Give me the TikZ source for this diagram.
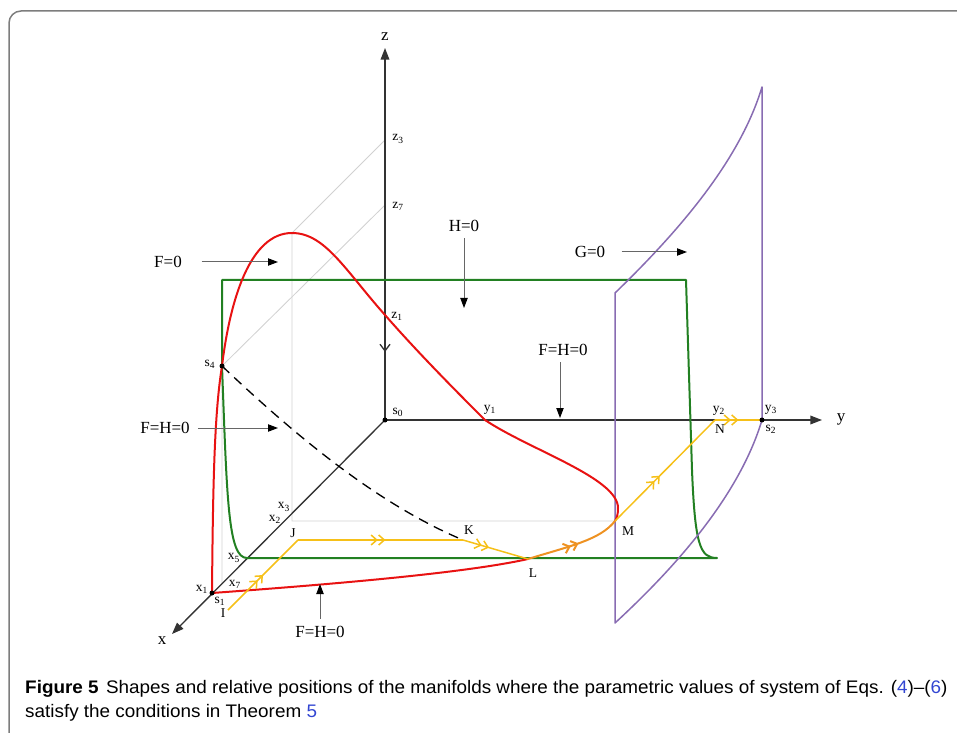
\documentclass[tikz,border=0pt]{standalone}
\usepackage{fontspec}
\setmainfont{Liberation Serif}
\newfontfamily\capfont[FakeStretch=1.04]{Liberation Sans}
\usepackage{tikz}
\usetikzlibrary{positioning,arrows.meta,decorations.markings}

\definecolor{redc}{RGB}{232,18,18}
\definecolor{greenc}{RGB}{34,128,34}
\definecolor{purplec}{RGB}{136,108,178}
\definecolor{yellowc}{RGB}{246,192,24}
\definecolor{orangec}{RGB}{238,146,34}
\definecolor{linkblue}{RGB}{50,70,210}
\definecolor{framegray}{RGB}{125,125,125}

\tikzset{
    axis/.style={line width=0.4mm, black!80, -{Triangle[length=3.5mm,width=2.6mm]}},
    note/.style={line width=0.3mm, black!60, -{Triangle[length=3mm,width=2.2mm,black]}},
    lab/.style={font=\fontsize{14.5}{16}\selectfont, inner sep=1pt},
    small/.style={font=\fontsize{11.5}{12}\selectfont, inner sep=1pt},
    guide/.style={line width=0.25mm, black!18},
    flow/.style={line width=0.45mm, yellowc, postaction=decorate,
        decoration={markings, mark=at position #1 with
        {\arrow{Straight Barb[length=1.7mm,width=3mm] Straight Barb[length=1.7mm,width=3mm]}}}},
    flow/.default=0.5,
}

\begin{document}
\begin{tikzpicture}[x=0.3mm, y=-0.3mm]
    \useasboundingbox (0,0) rectangle (957,733);
    % frame
    \draw[framegray, line width=0.45mm, rounded corners=3.6mm] (960,11) -- (9,11) -- (9,740);

    % points
    \coordinate (s0) at (385,420);
    \coordinate (s1) at (212,593);
    \coordinate (s4) at (222,366);
    \coordinate (s2) at (762,420);
    \coordinate (peak) at (292,233);
    \coordinate (y1) at (485,420);
    \coordinate (z1) at (385,315);
    \coordinate (z3) at (385,140);
    \coordinate (z7) at (385,205);
    \coordinate (x5) at (247,558);
    \coordinate (x7) at (222,583);
    \coordinate (I) at (228,610);
    \coordinate (J) at (298,540);
    \coordinate (K) at (463,540);
    \coordinate (L) at (528,559);
    \coordinate (M) at (615,521);
    \coordinate (N) at (715,420);
    \coordinate (xend) at (172,634);
    \coordinate (yend) at (822,420);
    \coordinate (zend) at (385,48);

    % guide lines
    \draw[guide] (z3) -- (peak) -- (peak |- M) -- (M);
    \draw[guide] (z7) -- (s4) -- (x7);

    % axes
    \draw[axis] (s0) -- (zend);
    \draw[axis] (s0) -- (yend);
    \draw[axis] (s0) -- (xend);
    \draw[line width=0.4mm, black!80, -{Straight Barb[length=2mm,width=3mm]}] (385,336) -- (385,352);

    % H=0
    \draw[greenc, line width=0.6mm, line join=round] (222,280) -- (686,280) -- (692,470)
        .. controls (695,545) and (700,558) .. (717,558) -- (x5)
        .. controls (228,558) and (227,500) .. (s4) -- cycle;

    % G=0
    \draw[purplec, line width=0.45mm, line join=round] (615,623) -- (615,293)
        .. controls (680,230) and (740,160) .. (762,87) -- (s2)
        .. controls (740,493) and (680,563) .. cycle;

    % F=0
    \draw[redc, line width=0.6mm] (s1) .. controls (213,470) and (215,410) .. (s4)
        .. controls (230,300) and (250,233) .. (peak)
        .. controls (325,233) and (345,270) .. (z1)
        .. controls (420,355) and (460,395) .. (y1)
        .. controls (530,450) and (618,478) .. (618,508)
        .. controls (618,514) and (617,518) .. (M);
    \draw[redc, line width=0.6mm] (L) .. controls (470,572) and (350,583) .. (s1);
    \draw[dashed, line width=0.4mm, dash pattern=on 3mm off 2mm] (s4) .. controls (300,440) and (380,505) .. (K);

    % trajectory
    \draw[flow] (I) -- (J);
    \draw[flow=0.53] (J) -- (K);
    \draw[flow=0.4] (K) -- (L);
    \draw[flow=0.55, orangec, line width=0.6mm] (L) .. controls (570,546) and (600,540) .. (M);
    \draw[flow=0.45] (M) -- (N);
    \draw[flow] (N) -- (s2);

    \foreach \p in {s0,s1,s4,s2}
        \fill (\p) circle (0.75mm);

    % axis labels
    \node[lab] (lz) at (385,37) {z};
    \node[lab] (ly) at (841,419) {y};
    \node[lab] (lx) at (162,641) {x};
    \node[small] (lz3) at (398,139) {z\textsubscript{3}};
    \node[small] (lz7) at (398,206) {z\textsubscript{7}};
    \node[small] (lz1) at (397,316) {z\textsubscript{1}};
    \node[small] (ls0) at (398,412) {s\textsubscript{0}};
    \node[small] (ly1) at (490,410) {y\textsubscript{1}};
    \node[small] (ly2) at (719,411) {y\textsubscript{2}};
    \node[small] (lN) at (720,429) {N};
    \node[small] (ly3) at (771,410) {y\textsubscript{3}};
    \node[small] (ls2) at (771,429) {s\textsubscript{2}};
    \node[small] (lM) at (628,531) {M};
    \node[small] (lL) at (533,573) {L};
    \node[small] (lK) at (469,530) {K};
    \node[small] (lJ) at (293,533) {J};
    \node[small] (lI) at (223,613) {I};
    \node[small] (ls4) at (210,364) {s\textsubscript{4}};
    \node[small] (lx3) at (284,507) {x\textsubscript{3}};
    \node[small] (lx2) at (275,519) {x\textsubscript{2}};
    \node[small] (lx5) at (234,558) {x\textsubscript{5}};
    \node[small] (lx7) at (235,584) {x\textsubscript{7}};
    \node[small] (lx1) at (202,589) {x\textsubscript{1}};
    \node[small] (ls1) at (220,601) {s\textsubscript{1}};

    % manifold notes
    \node[lab] (fz) at (168,262) {F=0};
    \coordinate (fzt) at (278,262);
    \draw[note] ([xshift=5.5mm]fz.east) -- (fzt);
    \node[lab] (hz) at (464,226) {H=0};
    \coordinate (hzt) at (464,308);
    \draw[note] ([yshift=-1.5mm]hz.south) -- (hzt);
    \node[lab] (gz) at (590,252) {G=0};
    \coordinate (gzt) at (687,252);
    \draw[note] ([xshift=4.5mm]gz.east) -- (gzt);
    \node[lab] (fha) at (563,350) {F=H=0};
    \coordinate (fhat) at (560,418);
    \draw[note] ([xshift=-0.9mm,yshift=-1.6mm]fha.south) -- (fhat);
    \node[lab] (fhb) at (165,428) {F=H=0};
    \coordinate (fhbt) at (278,428);
    \draw[note] ([xshift=2mm]fhb.east) -- (fhbt);
    \node[lab] (fhc) at (320,632) {F=H=0};
    \coordinate (fhct) at (320,584);
    \draw[note] ([yshift=1.8mm]fhc.north) -- (fhct);

    % caption
    \node[anchor=base west, inner sep=0pt, font=\capfont\fontsize{15.5}{18}\selectfont] (cap1) at (25,693)
        {\textbf{Figure 5}\hspace{2.2mm}Shapes and relative positions of the manifolds where the parametric values of system of Eqs. (\textcolor{linkblue}{4})–(\textcolor{linkblue}{6})};
    \node[anchor=base west, inner sep=0pt, font=\capfont\fontsize{15.5}{18}\selectfont] (cap2) at (25,717)
        {satisfy the conditions in Theorem \textcolor{linkblue}{5}};
\end{tikzpicture}
\end{document}
